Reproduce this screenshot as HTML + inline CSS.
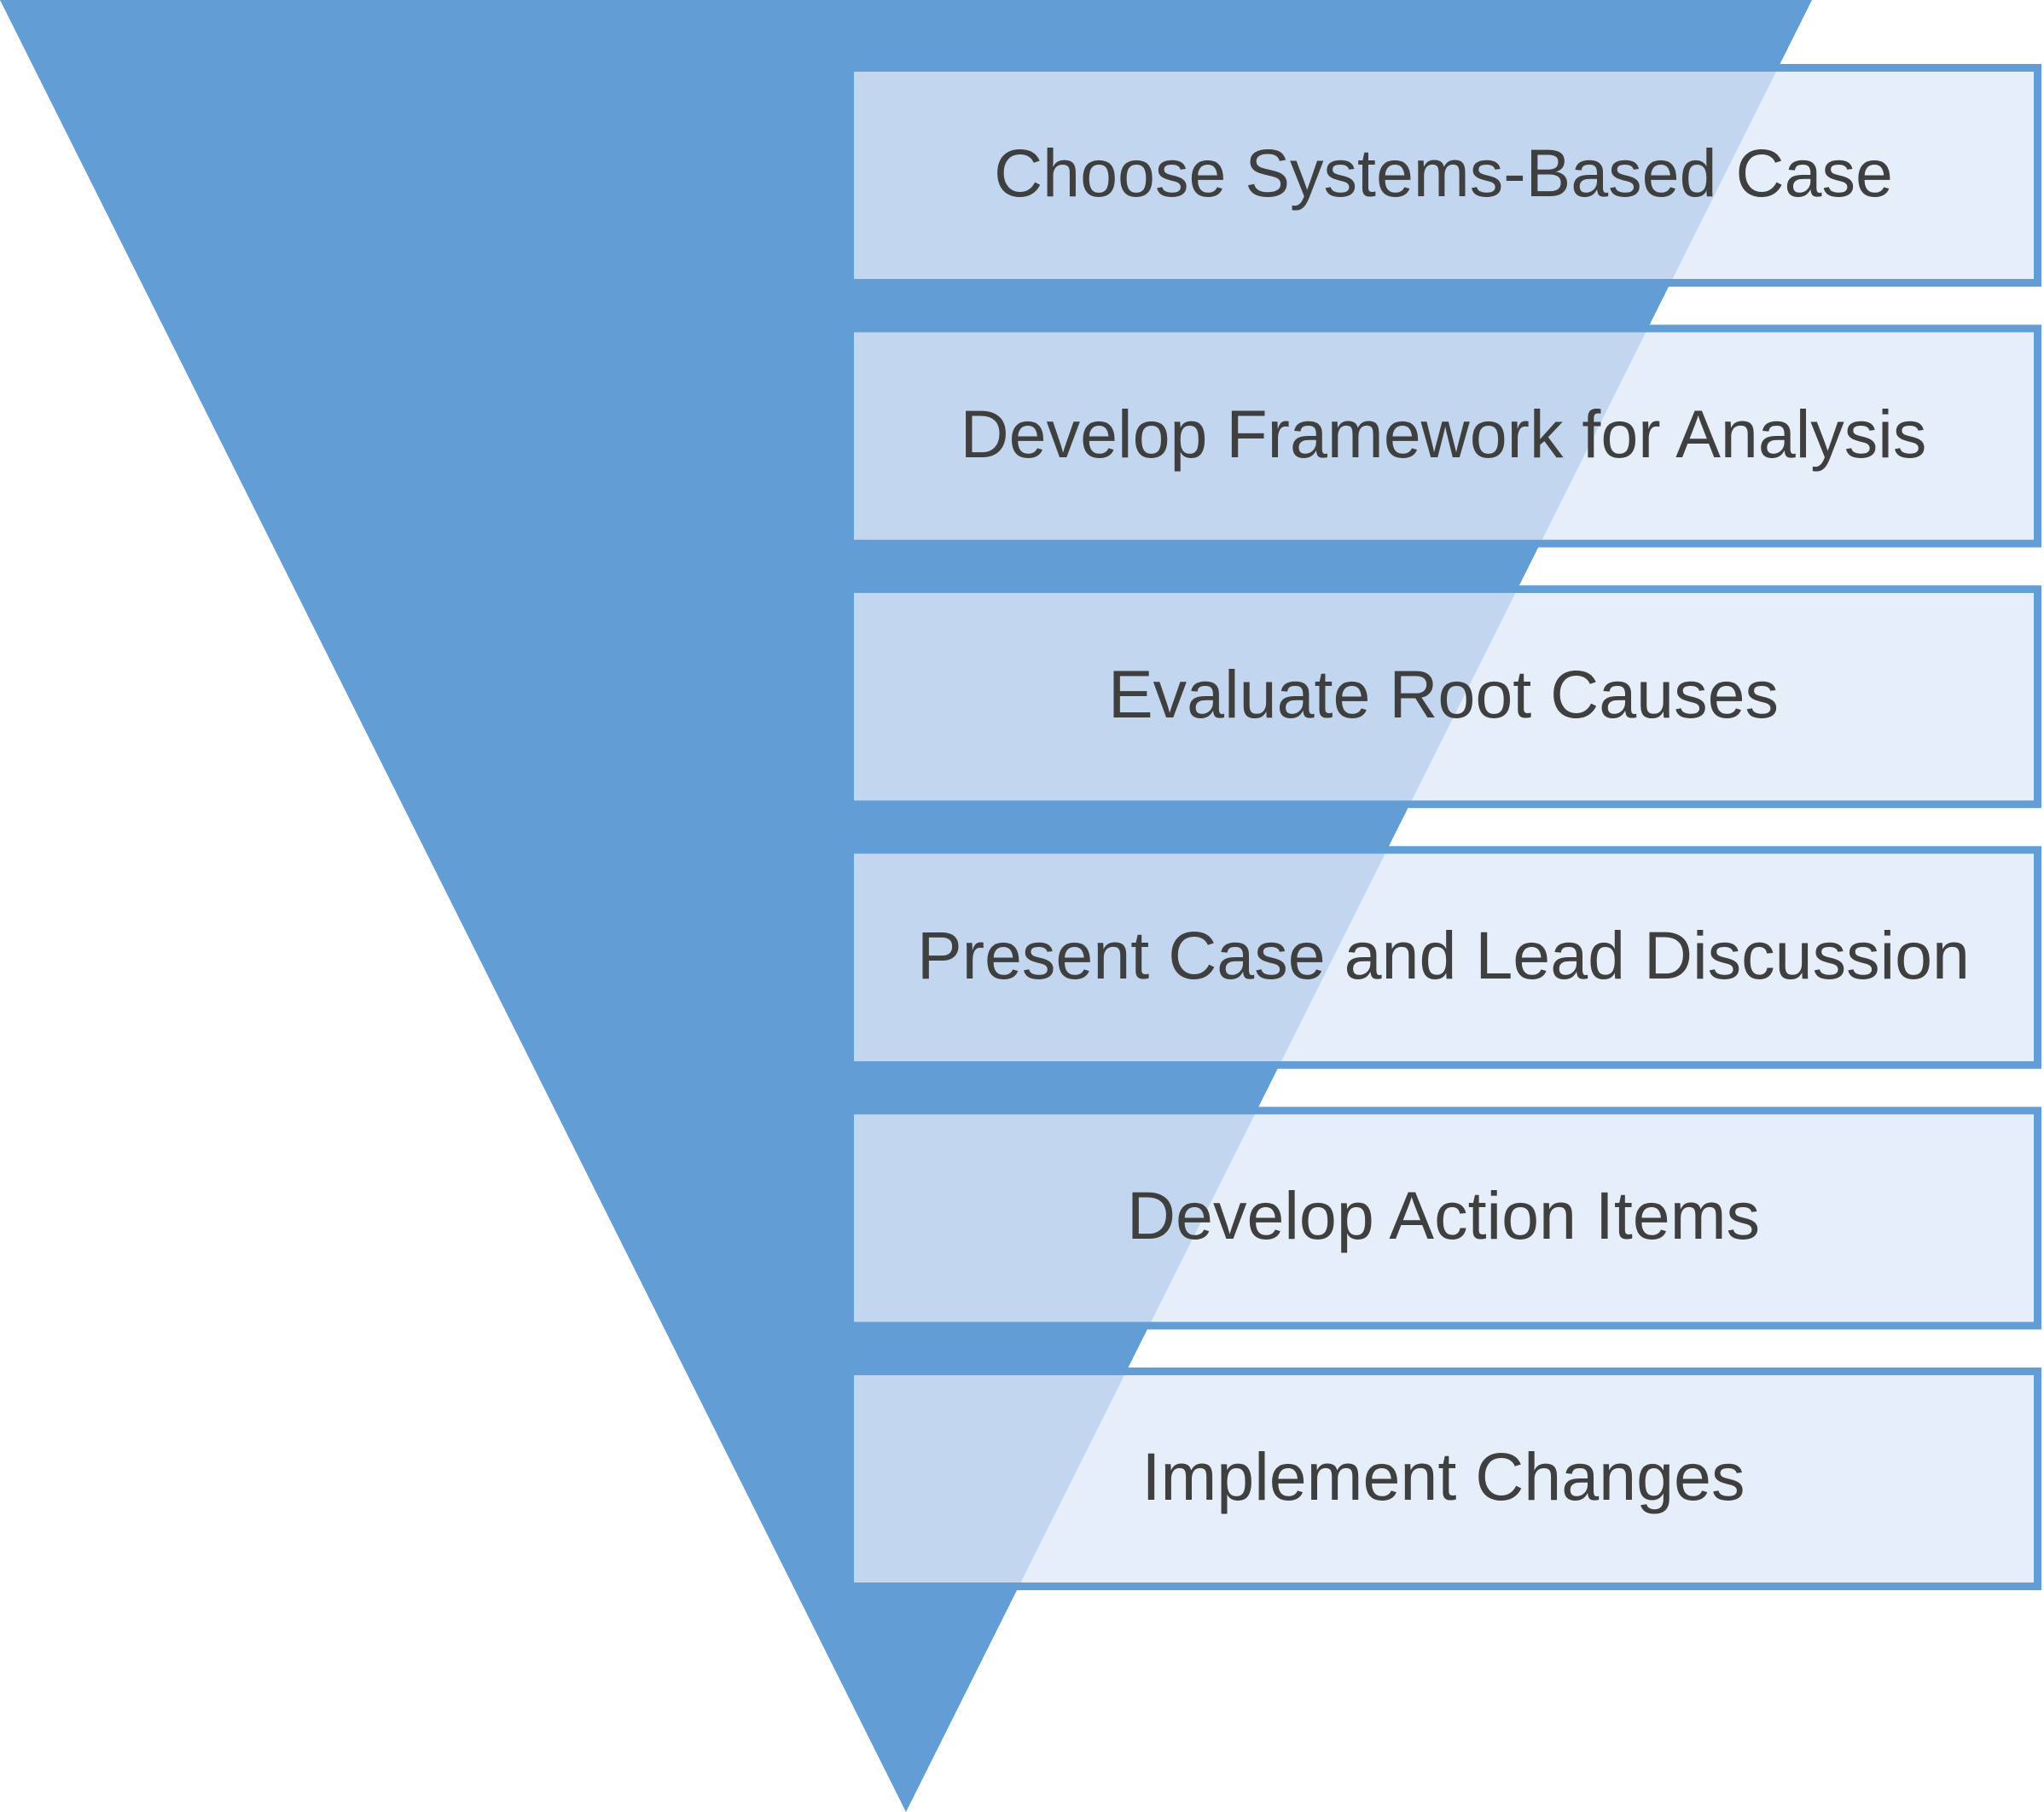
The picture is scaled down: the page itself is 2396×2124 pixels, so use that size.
<!DOCTYPE html>
<html><head><meta charset="utf-8"><style>
html,body{margin:0;padding:0;background:#fff;}
svg{display:block;}
text{font-family:"Liberation Sans","DejaVu Sans",sans-serif;font-size:79px;fill:#3f3f3f;text-anchor:middle;}
</style></head><body>
<svg width="2396" height="2124" viewBox="0 0 2396 2124" xmlns="http://www.w3.org/2000/svg">
<defs><clipPath id="tri"><polygon points="0,0 2124,0 1062,2124"/></clipPath></defs>
<polygon points="0,0 2124,0 1062,2124" fill="#629ed5"/>
<g fill="none" stroke="#629ed5" stroke-width="9">
<rect x="996.5" y="79.5" width="1392" height="252"/>
<rect x="996.5" y="385.1" width="1392" height="252"/>
<rect x="996.5" y="690.7" width="1392" height="252"/>
<rect x="996.5" y="996.3" width="1392" height="252"/>
<rect x="996.5" y="1301.9" width="1392" height="252"/>
<rect x="996.5" y="1607.5" width="1392" height="252"/>
</g>
<g fill="#e6eef9">
<rect x="1001" y="84" width="1383" height="243"/>
<rect x="1001" y="389.6" width="1383" height="243"/>
<rect x="1001" y="695.2" width="1383" height="243"/>
<rect x="1001" y="1000.8" width="1383" height="243"/>
<rect x="1001" y="1306.4" width="1383" height="243"/>
<rect x="1001" y="1612" width="1383" height="243"/>
</g>
<g fill="#c3d6ef" clip-path="url(#tri)">
<rect x="1001" y="84" width="1383" height="243"/>
<rect x="1001" y="389.6" width="1383" height="243"/>
<rect x="1001" y="695.2" width="1383" height="243"/>
<rect x="1001" y="1000.8" width="1383" height="243"/>
<rect x="1001" y="1306.4" width="1383" height="243"/>
<rect x="1001" y="1612" width="1383" height="243"/>
</g>
<text x="1692" y="230">Choose Systems-Based Case</text>
<text x="1692" y="536">Develop Framework for Analysis</text>
<text x="1692" y="841">Evaluate Root Causes</text>
<text x="1692" y="1147">Present Case and Lead Discussion</text>
<text x="1692" y="1452">Develop Action Items</text>
<text x="1692" y="1758">Implement Changes</text>
</svg>
</body></html>
